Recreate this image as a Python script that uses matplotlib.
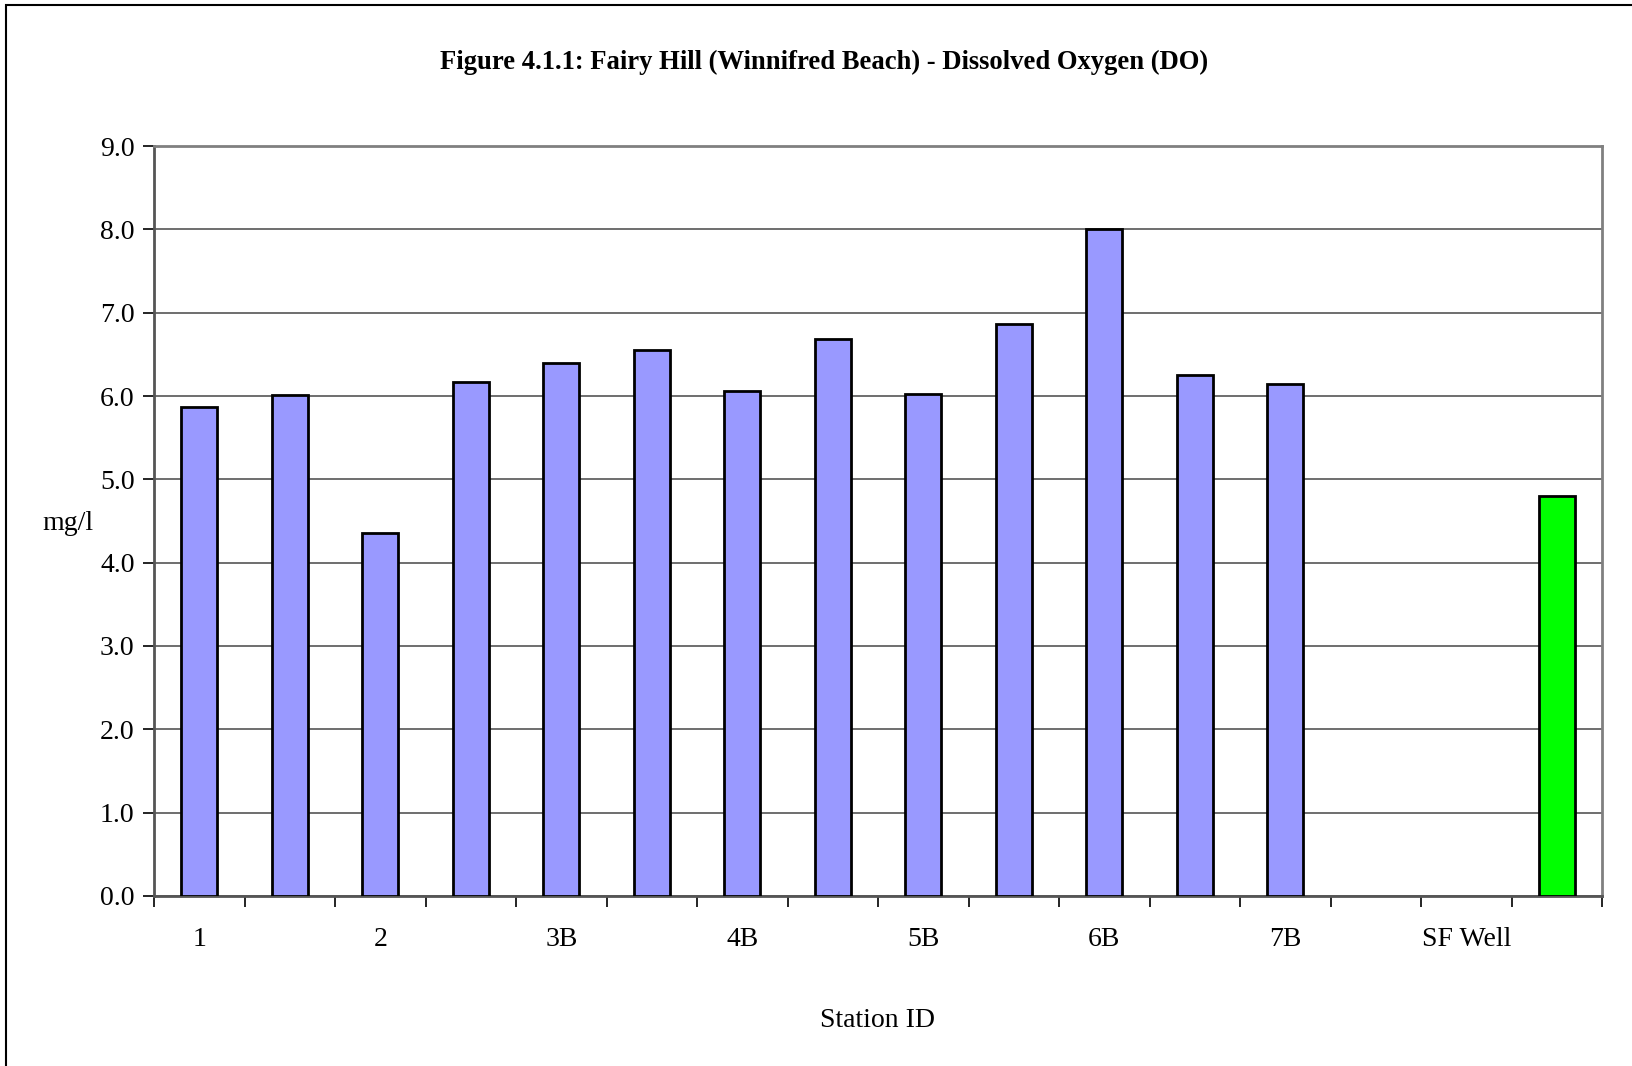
import numpy as np
import matplotlib.pyplot as plt
from matplotlib.patches import Rectangle

# dissolved oxygen per station (mg/l); blank slots have no sample
stations = ['1', '', '2', '', '3B', '', '4B', '', '5B', '', '6B', '', '7B', '', 'SF Well', '']
do_vals = [5.87, 6.01, 4.36, 6.17, 6.40, 6.55, 6.06, 6.68, 6.02, 6.87, 8.00, 6.25, 6.15,
           np.nan, np.nan, 4.80]
colors = ['#9999FF'] * 15 + ['#00FF00']

plt.rcParams['font.family'] = ['Liberation Serif', 'DejaVu Serif']

fig = plt.figure(figsize=(16.32, 10.66), dpi=100)
ax = fig.add_axes([0.0944, 0.1595, 0.8873, 0.7035])

x = np.arange(len(stations))
ax.bar(x, do_vals, width=0.4, color=colors, edgecolor='black', linewidth=2.0, zorder=3)

ax.set_xlim(-0.5, len(stations) - 0.5)
ax.set_ylim(0, 9)
ax.set_yticks(np.arange(0, 9.1, 1.0))
ax.set_yticklabels([f'{v:.1f}' for v in np.arange(0, 9.1, 1.0)], fontsize=20)
ax.yaxis.grid(True, color='#555555', linewidth=1.2, zorder=0)

# labels on every other station, ticks at the slot boundaries
ax.set_xticks(x[::2])
ax.set_xticklabels(stations[::2], fontsize=20)
ax.set_xticks(np.arange(-0.5, len(stations), 1.0), minor=True)
ax.tick_params(axis='x', which='major', length=0, pad=22)
ax.tick_params(axis='x', which='minor', length=8, width=1.2, color='black')
ax.tick_params(axis='y', length=8, width=1.2, pad=6)

for side in ['top', 'right']:
    ax.spines[side].set_color('#808080')
    ax.spines[side].set_linewidth(2)
for side in ['left', 'bottom']:
    ax.spines[side].set_color('#555555')
    ax.spines[side].set_linewidth(2)

fig.text(0.0417, 0.509, 'mg/l', fontsize=20, ha='center', va='center')
fig.text(0.5376, 0.043, 'Station ID', fontsize=20, ha='center', va='center')
fig.text(0.505, 0.941, 'Figure 4.1.1: Fairy Hill (Winnifred Beach) - Dissolved Oxygen (DO)',
         fontsize=19.2, fontweight='bold', ha='center', va='center')

# chart area border (only left and top edges fall inside the image)
fig.patches.append(Rectangle((0.0037, -0.01), 1.2, 1.0053, transform=fig.transFigure,
                             fill=False, edgecolor='black', linewidth=1.5))

fig.savefig('out.png', dpi=100)
